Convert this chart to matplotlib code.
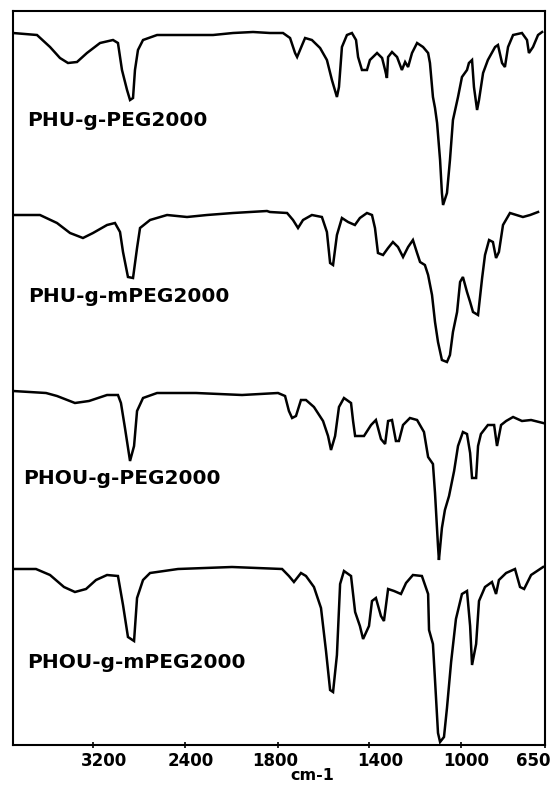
import numpy as np
import matplotlib
matplotlib.use("Agg")
import matplotlib.pyplot as plt
from matplotlib.transforms import ScaledTranslation

# ---------------- data (wavenumber cm-1, stacked transmittance a.u.) ----------------
names = ["PHU-g-PEG2000", "PHU-g-mPEG2000", "PHOU-g-PEG2000", "PHOU-g-mPEG2000"]

wn1 = [3900, 3690, 3576, 3489, 3419, 3340, 3253, 3139, 3026, 2983, 2948, 2904, 2878, 2852,
       2835, 2809, 2765, 2643, 2303, 2219, 2090, 1961, 1852, 1778, 1747, 1725, 1716, 1694,
       1681, 1651, 1615, 1585, 1563, 1541, 1532, 1519, 1497, 1475, 1457, 1448, 1431, 1409,
       1396, 1365, 1343, 1330, 1322, 1317, 1300, 1278, 1257, 1243, 1230, 1213, 1191, 1165,
       1143, 1135, 1122, 1113, 1104, 1091, 1083, 1078, 1061, 1048, 1035, 1013, 996, 975,
       967, 954, 946, 933, 925, 908, 888, 858, 846, 829, 817, 804, 783, 746, 725, 717, 700,
       679, 662]
t1 = [712, 710, 698, 687, 682, 683, 692, 702, 705, 702, 675, 655, 645, 647,
      675, 695, 705, 710, 710, 710, 712, 713, 712, 712, 707, 692, 688, 700,
      707, 705, 697, 685, 665, 648, 658, 698, 710, 712, 705, 688, 675, 675,
      685, 692, 687, 675, 667, 688, 693, 688, 675, 683, 678, 692, 702, 698,
      692, 682, 648, 637, 622, 585, 552, 540, 552, 585, 625, 648, 668, 675,
      682, 685, 658, 635, 645, 672, 685, 698, 700, 682, 678, 698, 710, 712, 705, 692, 698,
      710, 713]

wn2 = [3883, 3664, 3515, 3401, 3288, 3200, 3078, 3009, 2965, 2939, 2896, 2852, 2817, 2791,
       2704, 2556, 2387, 2258, 2090, 1871, 1852, 1760, 1734, 1712, 1690, 1651, 1607, 1585,
       1571, 1558, 1541, 1519, 1492, 1462, 1440, 1409, 1387, 1374, 1361, 1339, 1317, 1296,
       1274, 1252, 1230, 1209, 1191, 1178, 1157, 1143, 1126, 1113, 1100, 1083, 1061, 1048,
       1035, 1017, 1004, 992, 975, 962, 950, 929, 912, 900, 883, 867, 854, 842, 825, 796,
       742, 712, 679]
t2 = [530, 530, 522, 512, 507, 512, 520, 522, 513, 493, 468, 467, 497, 517,
      525, 530, 528, 530, 532, 534, 533, 532, 525, 517, 525, 530, 528, 513,
      482, 480, 510, 527, 523, 520, 527, 532, 530, 517, 492, 490, 497, 503,
      498, 488, 498, 505, 492, 483, 480, 470, 450, 423, 403, 385, 383, 390,
      413, 433, 463, 468, 453, 443, 433, 430, 467, 490, 505, 503, 487, 493, 520, 532,
      528, 530, 533]

wn3 = [3900, 3611, 3515, 3358, 3235, 3078, 2983, 2957, 2922, 2878, 2843, 2817, 2765, 2643,
       2329, 2032, 1800, 1769, 1752, 1738, 1721, 1699, 1677, 1642, 1602, 1580, 1567, 1549,
       1532, 1510, 1479, 1470, 1461, 1422, 1391, 1370, 1348, 1330, 1317, 1300, 1283, 1270,
       1252, 1222, 1191, 1161, 1143, 1122, 1113, 1100, 1096, 1083, 1070, 1052, 1030, 1013,
       992, 975, 962, 954, 937, 929, 917, 888, 862, 850, 833, 812, 783, 746, 708, 658]
t3 = [354, 352, 349, 342, 344, 350, 350, 342, 317, 284, 299, 334, 347, 352,
      352, 350, 352, 349, 334, 327, 329, 345, 345, 338, 324, 309, 295, 309,
      338, 347, 342, 324, 309, 309, 320, 325, 306, 301, 324, 325, 304, 304,
      320, 327, 325, 313, 288, 281, 252, 199, 185, 217, 235, 249, 274, 299,
      313, 311, 292, 267, 267, 299, 311, 320, 320, 299, 320, 324, 328, 324, 325, 322]

wn4 = [3900, 3699, 3576, 3454, 3358, 3261, 3174, 3078, 2983, 2939, 2896, 2843, 2817, 2765,
       2704, 2461, 2097, 1782, 1752, 1730, 1699, 1677, 1642, 1611, 1589, 1571, 1558, 1541,
       1527, 1510, 1479, 1461, 1440, 1426, 1400, 1387, 1370, 1348, 1335, 1317, 1291, 1261,
       1239, 1209, 1170, 1143, 1139, 1122, 1113, 1100, 1091, 1074, 1061, 1043, 1022, 996,
       975, 962, 954, 937, 925, 900, 871, 854, 842, 812, 775, 754, 737, 708, 658]
t4 = [176, 176, 170, 158, 153, 156, 165, 170, 169, 140, 108, 104, 147, 165,
      172, 176, 178, 176, 169, 163, 172, 169, 158, 137, 94, 55, 53, 90,
      161, 174, 169, 133, 119, 106, 119, 144, 147, 129, 124, 156, 154, 151,
      162, 170, 169, 151, 115, 101, 65, 12, 3, 8, 37, 83, 126, 151,
      154, 119, 80, 101, 144, 158, 163, 151, 165, 172, 176, 158, 156, 170, 178]

wavenumbers = [wn1, wn2, wn3, wn4]
spectra = [t1, t2, t3, t4]
label_pos = [(3777, 625), (3769, 448), (3812, 267), (3777, 83)]

tick_values = [3200, 2400, 1800, 1400, 1000, 650]
tick_labels = ["3200", "2400", "1800", "1400", "1000", "650"]
label_shift_px = [11, 6, -3, 11, 5, -12]

# ------- piecewise axis (the original scale is non-linear) -------
scale_wn = np.array([650, 1000, 1400, 1800, 2400, 3200, 3900], dtype=float)
scale_pos = np.array([0, 84, 176, 267, 360, 452, 532], dtype=float)

def fwd(w):
    return np.interp(w, scale_wn, scale_pos)

def inv(p):
    return np.interp(p, scale_pos, scale_wn)

W, H = 556, 785
fig = plt.figure(figsize=(W / 100, H / 100), dpi=100)
ax = fig.add_axes([13 / W, 1 - 745 / H, (545 - 13) / W, (745 - 11) / H])
ax.set_xscale("function", functions=(fwd, inv))

for wn, t in zip(wavenumbers, spectra):
    ax.plot(wn, t, color="black", lw=1.8, solid_joinstyle="miter")

for name, (x, y) in zip(names, label_pos):
    ax.text(x, y, name, fontsize=14.5, fontweight="bold", family="DejaVu Sans",
            ha="left", va="center", color="black")

ax.set_xlim(3900, 650)
ax.set_ylim(0, 734)
ax.set_xticks(tick_values)
ax.set_xticklabels(tick_labels, fontsize=12, fontweight="bold")
ax.set_yticks([])
ax.tick_params(axis="x", direction="inout", length=4, width=1.2, pad=3)
for lab, dx in zip(ax.get_xticklabels(), label_shift_px):
    lab.set_transform(lab.get_transform() + ScaledTranslation(dx / 100, 0, fig.dpi_scale_trans))

for s in ax.spines.values():
    s.set_linewidth(1.5)

ax.set_xlabel("cm-1", fontsize=11.5, fontweight="bold")
ax.xaxis.set_label_coords((312 - 13) / (545 - 13), -(768 - 745) / (745 - 11))

fig.savefig("out.png", dpi=100)
